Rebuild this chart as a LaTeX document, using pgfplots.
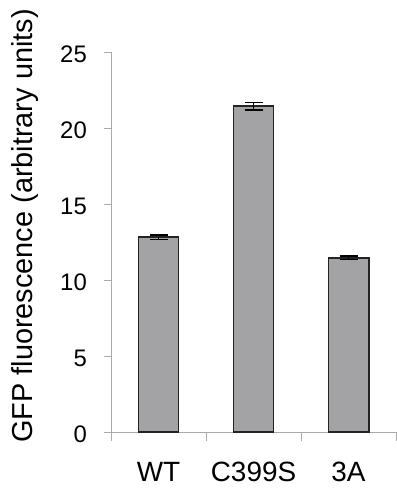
\documentclass[border=0pt]{standalone}
\usepackage{pgfplots}
\pgfplotsset{compat=1.18}
\usepackage{fontspec}
\setmainfont{Liberation Sans}
\definecolor{barfill}{RGB}{163,163,166}
\definecolor{baredge}{RGB}{35,35,35}
\definecolor{axisgray}{RGB}{170,170,170}
\begin{document}
\begin{tikzpicture}
\begin{axis}[
  scale only axis,
  width=285bp, height=380bp,
  xmin=-0.5, xmax=2.5,
  ymin=0, ymax=25,
  axis x line=bottom, axis y line=left,
  axis line style={draw=axisgray, line width=0.9pt, -},
  xtick={0,1,2},
  xticklabels={WT, C399S, 3A},
  major x tick style={draw=none},
  minor xtick={-0.5,0.5,1.5,2.5},
  minor x tick style={draw=axisgray, line width=0.9pt},
  minor tick length=9bp,
  ytick={0,5,10,15,20,25},
  major y tick style={draw=axisgray, line width=0.9pt},
  major tick length=7bp,
  tick align=outside,
  /pgf/number format/assume math mode=true,
  yticklabel style={font=\fontsize{24}{28}\selectfont, inner sep=0pt, xshift=-17bp, yshift=-2bp},
  xticklabel style={font=\fontsize{28}{32}\selectfont, inner sep=0pt, yshift=-23bp},
  ylabel={GFP fluorescence (arbitrary units)},
  ylabel style={font=\fontsize{29}{33}\selectfont, inner sep=0pt, at={(rel axis cs:-0.300,0.542)}, anchor=center},
  clip=false,
]
\addplot[ybar, bar width=40bp, fill=barfill, draw=baredge, line width=2pt,
  error bars/.cd, y dir=both, y explicit,
  error bar style={line width=1.5pt, black},
  error mark options={rotate=90, mark size=9bp, line width=1.5pt, black}]
  coordinates {(0,12.82) +- (0,0.15) (1,21.42) +- (0,0.25) (2,11.47) +- (0,0.11)};
\path (rel axis cs:-0.3895,1.1368) rectangle (rel axis cs:1.0,-0.1553);
\end{axis}
\end{tikzpicture}
\end{document}
